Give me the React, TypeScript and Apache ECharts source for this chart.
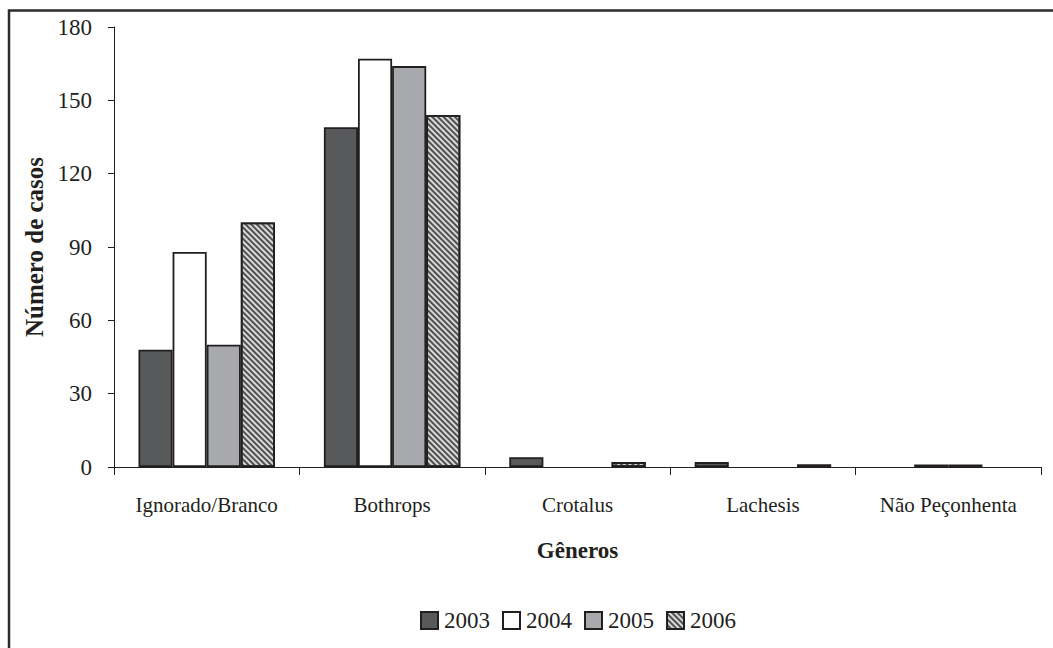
import React, { useEffect, useRef } from "react";
import * as echarts from "echarts";

// Snakebite cases by genus and year
const categories = ["Ignorado/Branco", "Bothrops", "Crotalus", "Lachesis", "Não Peçonhenta"];
const years = ["2003", "2004", "2005", "2006"];
const cases2003 = [48, 139, 4, 2, 0];
const cases2004 = [88, 167, 0, 0, 1];
const cases2005 = [50, 164, 0, 0, 1];
const cases2006 = [100, 144, 2, 1, 0];
const yTicks = [0, 30, 60, 90, 120, 150, 180];

const FONT = "'Liberation Serif', 'Times New Roman', serif";
const INK = "#231f20";

export default function App() {
  const ref = useRef<HTMLDivElement>(null);

  useEffect(() => {
    if (!ref.current) return;
    const chart = echarts.init(ref.current, undefined, { renderer: "svg" });

    // zero-height bars draw no outline
    const toData = (vals: number[]) =>
      vals.map((v) => (v === 0 ? { value: v, itemStyle: { borderWidth: 0 } } : v));

    const fills = ["#58595b", "#ffffff", "#a7a9ac", "#d9d9d9"];
    const seriesValues = [cases2003, cases2004, cases2005, cases2006];

    const series = seriesValues.map((vals, i) => ({
      name: years[i],
      type: "bar" as const,
      data: toData(vals),
      barGap: "0%",
      barCategoryGap: "26.4%",
      itemStyle: {
        color: fills[i],
        borderColor: INK,
        borderWidth: 1.8,
        ...(i === 3
          ? {
              decal: {
                symbol: "rect",
                symbolSize: 1,
                color: "#505050",
                dashArrayX: [1, 0],
                dashArrayY: [2, 2],
                rotation: Math.PI / 4,
              },
            }
          : {}),
      },
    }));

    chart.setOption({
      animation: false,
      backgroundColor: "#ffffff",
      textStyle: { fontFamily: FONT, color: INK },
      grid: { left: 114, top: 27, right: 12, bottom: 181, containLabel: false },
      legend: {
        data: years,
        left: 420,
        top: 609,
        padding: 0,
        itemWidth: 17,
        itemHeight: 17,
        itemGap: 12,
        icon: "rect",
        textStyle: { fontFamily: FONT, fontSize: 23, color: INK, padding: [0, 0, 0, 1] },
      },
      xAxis: {
        type: "category",
        data: categories,
        name: "Gêneros",
        nameLocation: "middle",
        nameGap: 72,
        nameTextStyle: { fontFamily: FONT, fontSize: 23, fontWeight: "bold", color: INK },
        axisLine: { lineStyle: { color: INK, width: 1 } },
        axisTick: { show: true, length: 8, lineStyle: { color: INK } },
        axisLabel: { fontFamily: FONT, fontSize: 21, color: INK, margin: 27 },
      },
      yAxis: {
        type: "value",
        min: yTicks[0],
        max: yTicks[yTicks.length - 1],
        interval: yTicks[1] - yTicks[0],
        name: "Número de casos",
        nameLocation: "middle",
        nameGap: 67,
        nameTextStyle: { fontFamily: FONT, fontSize: 25, fontWeight: "bold", color: INK },
        axisLine: { show: true, lineStyle: { color: INK, width: 1 } },
        axisTick: { show: true, length: 6, lineStyle: { color: INK } },
        splitLine: { show: false },
        axisLabel: { fontFamily: FONT, fontSize: 23, color: INK, margin: 22 },
      },
      graphic: [
        {
          type: "rect",
          shape: { x: 9, y: 10.5, width: 1200, height: 800 },
          style: { fill: "none", stroke: "#2b2b2b", lineWidth: 2.5 },
          silent: true,
        },
      ],
      series,
    });

    return () => chart.dispose();
  }, []);

  return (
    <div
      ref={ref}
      style={{ position: "absolute", left: 0, top: 0, width: 1053, height: 648 }}
    />
  );
}
